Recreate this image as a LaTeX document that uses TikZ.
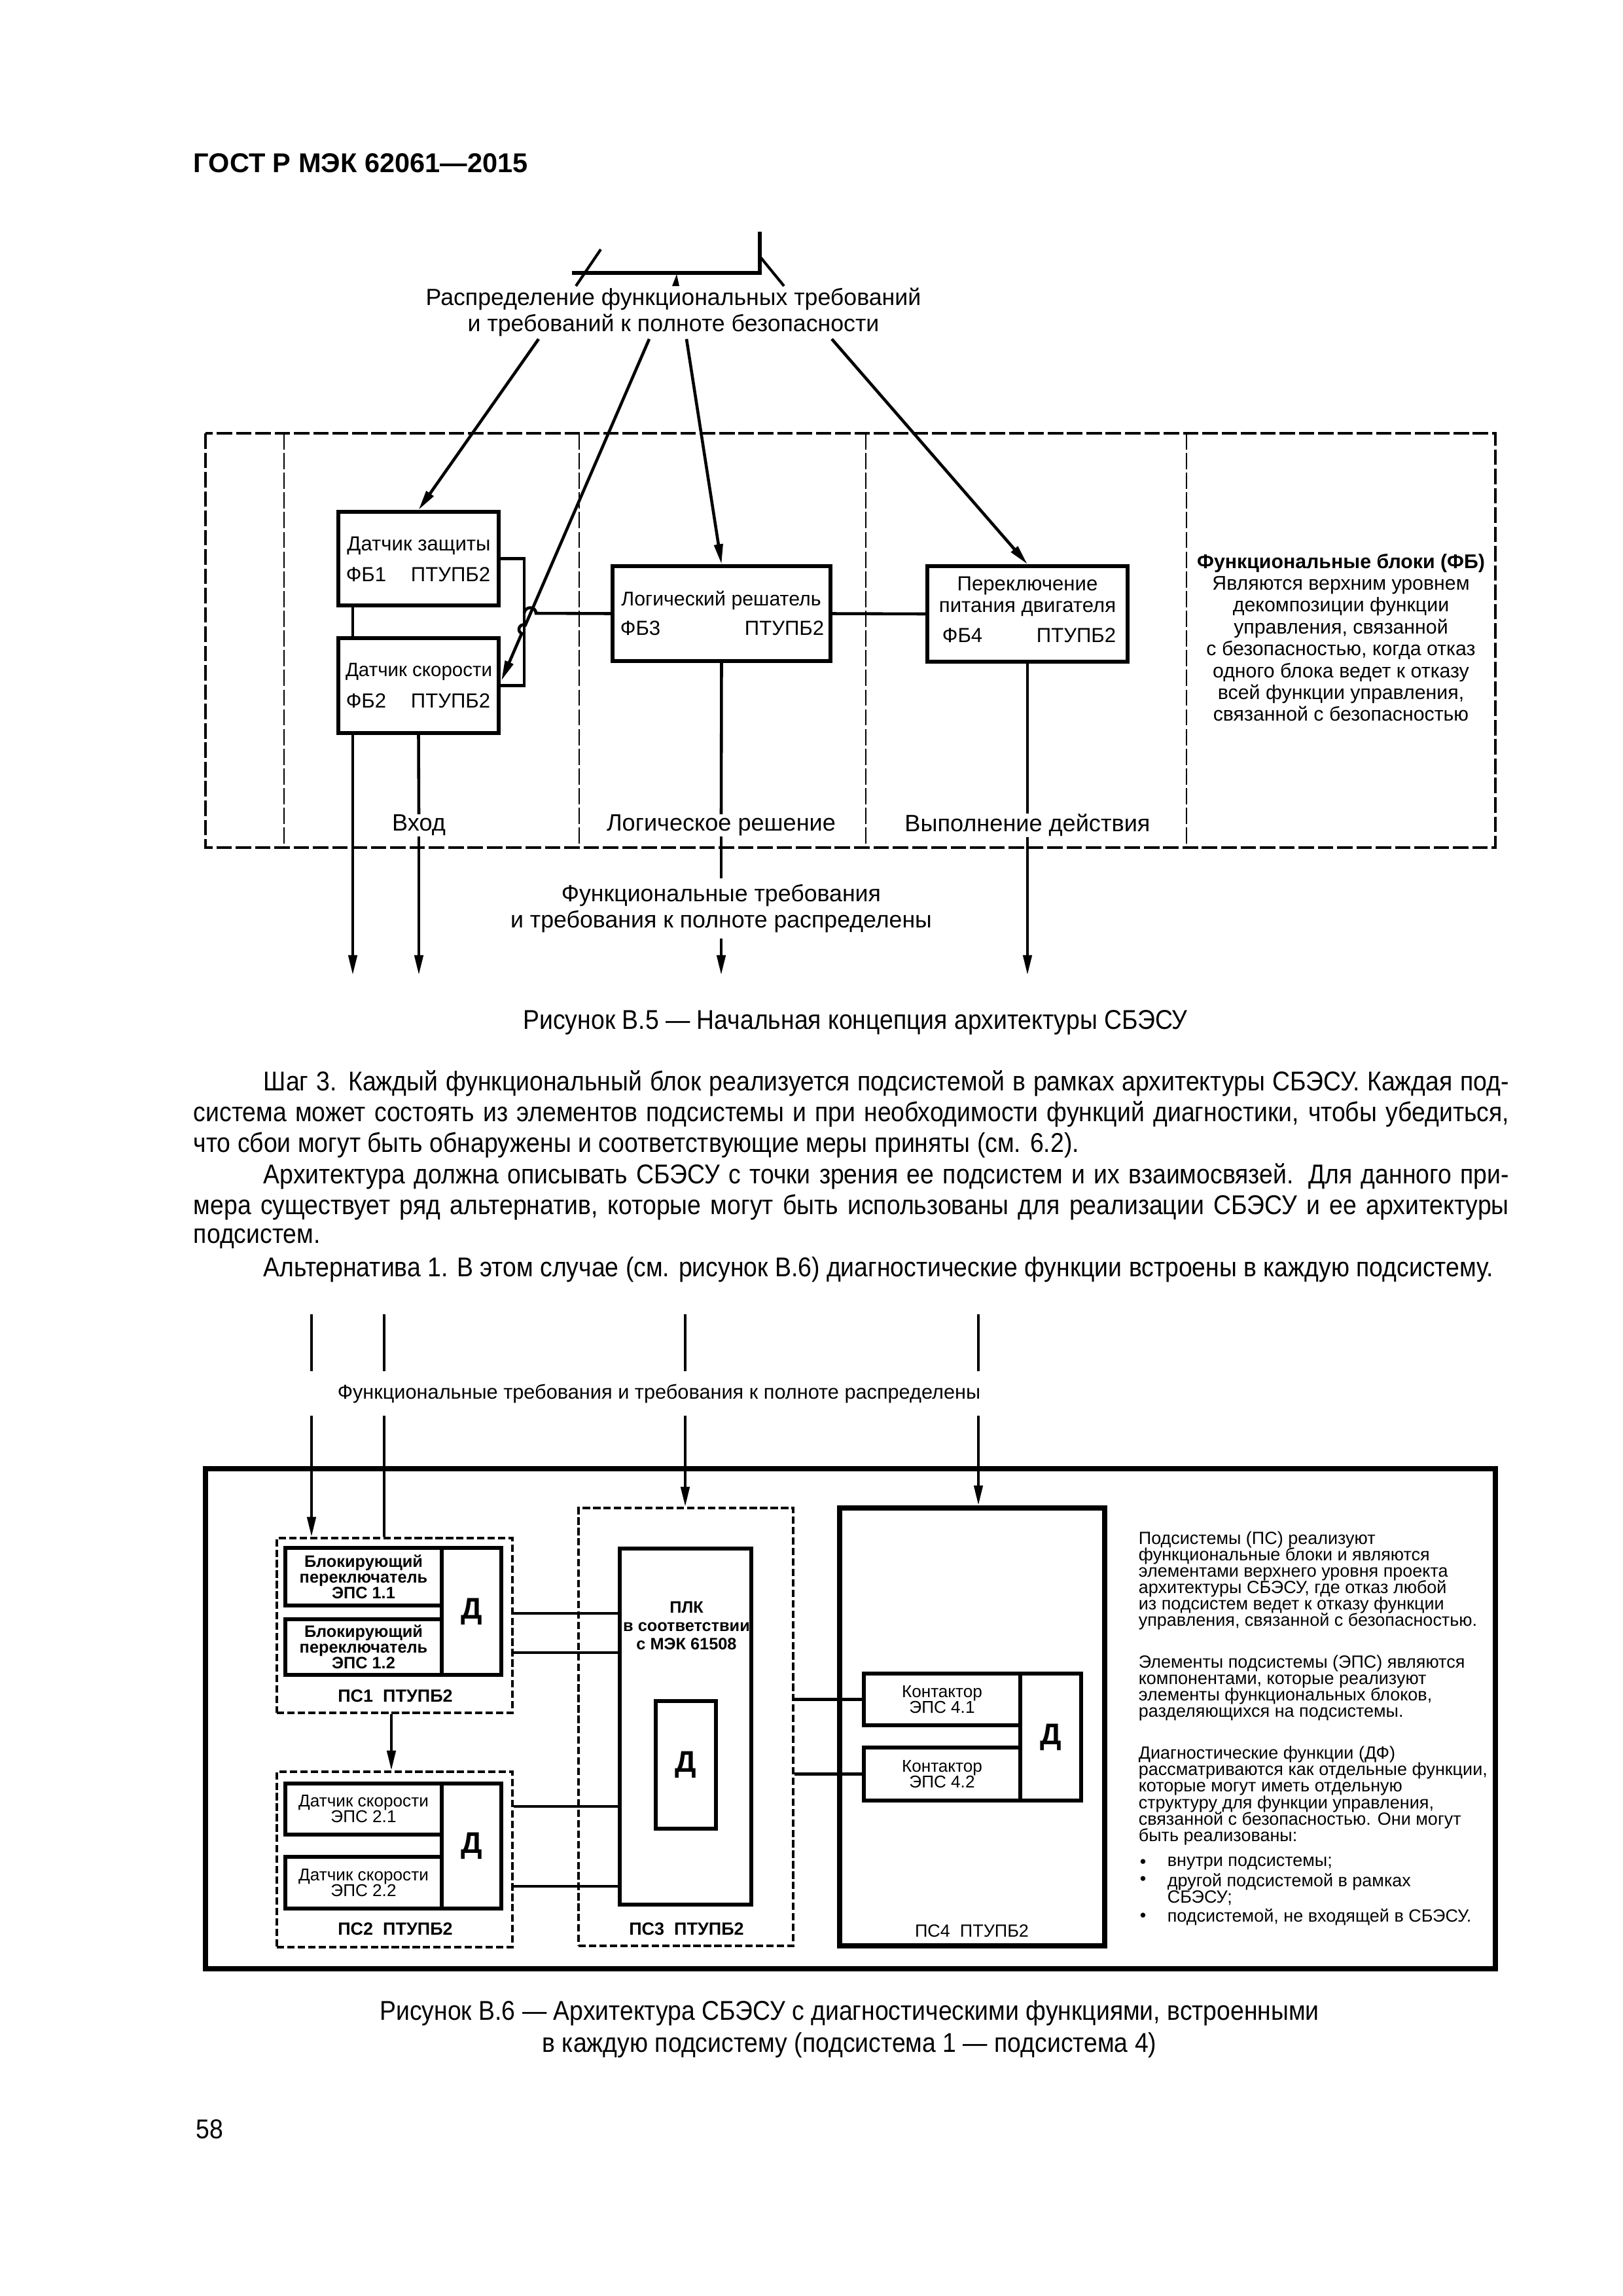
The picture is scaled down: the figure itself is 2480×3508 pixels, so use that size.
\documentclass[tikz,border=0pt]{standalone}
\usepackage{fontspec}
\setmainfont{Liberation Sans}
\newfontfamily\narrowfont{Liberation Sans}[FakeStretch=0.9]
\usetikzlibrary{arrows.meta,fit}
\newlength\pxu
\setlength\pxu{0.084677mm}
\newcommand\fsz[2]{\fontsize{#1}{#2}\selectfont\lineskiplimit=-50pt\relax}
\begin{document}
\begin{tikzpicture}[x=0.084677mm,y=-0.084677mm,
  fbx/.style={draw,line width=1.4pt,inner sep=0pt},
  sbx/.style={draw,line width=1.45pt,inner sep=0pt},
  thickbx/.style={draw,line width=1.8pt,inner sep=0pt},
  dbx/.style={draw,line width=0.8pt,dash pattern=on 0.95mm off 0.4mm,inner sep=0pt},
  dfr/.style={line width=0.85pt,dash pattern=on 2mm off 0.5mm},
  dvl/.style={line width=0.7pt,dash pattern=on 2.1mm off 0.45mm},
  conn/.style={line width=1.1pt},
  thinl/.style={line width=1pt},
  arr/.style={conn,-{Triangle[length=2.6mm,width=1.1mm]}},
  boxlbl/.style={inner sep=0pt,font=\fsz{7.5}{9}},
  seclbl/.style={inner sep=0pt,font=\fsz{8.7}{10}},
  head/.style={inner sep=0pt,align=center,font=\fsz{8.6}{9.6}},
  smalllbl/.style={inner sep=0pt,align=center,font=\fsz{6.3}{5.8}},
  pslbl/.style={inner sep=0pt,font=\fsz{6.5}{7}\bfseries},
  note/.style={inner sep=0pt,align=left,anchor=west,font=\fsz{6.5}{6.05}},
  body/.style={inner sep=0pt,anchor=west,font=\narrowfont\fsz{10}{11.5}},
  bigd/.style={inner sep=0pt,font=\fsz{11}{12}\bfseries}]
\fill[white] (0,0) rectangle (2480,3508);
\useasboundingbox (0,0) rectangle (2480,3508);

% ---------- header ----------
\node[inner sep=0pt,anchor=west,font=\fsz{10}{12}\bfseries] (title) at (295,249) {ГОСТ Р МЭК 62061—2015};

% ---------- figure B.5 ----------
\coordinate (tv1) at (1161,354);
\coordinate (tv2) at (1161,417);
\coordinate (th1) at (874,417);
\draw[line width=1.3pt] (tv1) -- (tv2) -- (th1);
\coordinate (sl1) at (918,381);
\coordinate (sl2) at (880,437);
\draw[thinl] (sl1) -- (sl2);
\coordinate (sr1) at (1162,393);
\coordinate (sr2) at (1198,437);
\draw[thinl] (sr1) -- (sr2);
\fill (1027,437) -- (1038,437) -- (1034,419) -- cycle;

\node[head] (head1) at (1029,477) {Распределение функциональных требований\\и требований к полноте безопасности};

\coordinate (s1) at (823,518);
\coordinate (s2) at (992,518);
\coordinate (s3) at (1049,518);
\coordinate (s4) at (1271,518);

\draw[dfr] (314,662) rectangle (2285,1295);
\foreach \xx in {434,885,1323,1813} \draw[dvl] (\xx,662) -- (\xx,1295);

\node[fbx,fit={(517,782)(762,925)}] (fb1) {};
\node[fbx,fit={(517,975)(762,1120)}] (fb2) {};
\node[fbx,fit={(936,865)(1269,1010)}] (fb3) {};
\node[fbx,fit={(1417,865)(1723,1011)}] (fb4) {};

\node[boxlbl] (fb1a) at (640,834) {Датчик защиты};
\node[boxlbl,anchor=west] (fb1b) at (528,878) {ФБ1};
\node[boxlbl,anchor=east] (fb1c) at (750,878) {ПТУПБ2};
\node[boxlbl,font=\fsz{7.1}{9}] (fb2a) at (640,1026) {Датчик скорости};
\node[boxlbl,anchor=west] (fb2b) at (528,1071) {ФБ2};
\node[boxlbl,anchor=east] (fb2c) at (750,1071) {ПТУПБ2};
\node[boxlbl,font=\fsz{7.3}{9}] (fb3a) at (1102,917) {Логический решатель};
\node[boxlbl,anchor=west] (fb3b) at (947,960) {ФБ3};
\node[boxlbl,anchor=east] (fb3c) at (1260,960) {ПТУПБ2};
\node[boxlbl] (fb4a) at (1570,895) {Переключение};
\node[boxlbl] (fb4b) at (1570,930) {питания двигателя};
\node[boxlbl,anchor=west] (fb4c) at (1439,971) {ФБ4};
\node[boxlbl,anchor=east] (fb4d) at (1706,971) {ПТУПБ2};

\draw[arr] (s1) -- (fb1.north);
\draw[arr] (s3) -- (fb3.north);
\draw[arr] (s4) -- (fb4.north);
\coordinate (e2) at (766,1040);
\coordinate (h1) at (802.8,955.1);
\coordinate (h2) at (797.2,967.9);
\draw[arr] (s2) -- (h1) .. controls (794.3,951.4) and (788.7,964.2) .. (h2) -- (e2);

\draw[conn] (fb1.east) -- ++(36,0) coordinate (fk1) -- (fk1 |- fb2.east) -- (fb2.east);
\coordinate (hj) at (819,937);
\draw[conn] (fb3.west) -- (hj) .. controls (819,925.7) and (802,925.7) .. (fk1 |- hj);
\draw[conn] (fb3.east) -- (fb4.west);

\coordinate (v1) at (539,0);
\coordinate (tipy) at (0,1490);
\draw[conn] (v1 |- fb1.south) -- (v1 |- fb2.north);
\draw[arr] (v1 |- fb2.south) -- (v1 |- tipy);

\node[seclbl] (vhod) at (640,1261) {Вход};
\node[seclbl] (logres) at (1102,1261) {Логическое решение};
\node[seclbl] (vypd) at (1570,1261) {Выполнение действия};
\node[head,inner ysep=2pt] (head2) at (1102,1388) {Функциональные требования\\и требования к полноте распределены};

\draw[conn] (fb2.south) -- (vhod.north);
\draw[arr] (vhod.south) -- (vhod.south |- tipy);
\draw[conn] (fb3.south) -- (logres.north);
\draw[conn] (logres.south) -- (head2.north);
\draw[arr] (head2.south) -- (head2.south |- tipy);
\draw[conn] (fb4.south) -- (vypd.north);
\draw[arr] (vypd.south) -- (vypd.south |- tipy);

\node[inner sep=0pt,align=center,font=\fsz{7.3}{8.05}] (fbnote) at (2049,974)
 {\textbf{Функциональные блоки (ФБ)}\\Являются верхним уровнем\\декомпозиции функции\\управления, связанной\\с безопасностью, когда отказ\\одного блока ведет к отказу\\всей функции управления,\\связанной с безопасностью};

\node[inner sep=0pt,font=\narrowfont\fsz{10}{12}] (cap5) at (1307,1562) {Рисунок В.5 — Начальная концепция архитектуры СБЭСУ};

% ---------- body text ----------
\node[body] (t1) at (402,1655) {\makebox[1903\pxu][s]{Шаг 3. Каждый функциональный блок реализуется подсистемой в рамках архитектуры СБЭСУ. Каждая под-}};
\node[body] (t2) at (295,1702.5) {\makebox[2010\pxu][s]{система может состоять из элементов подсистемы и при необходимости функций диагностики, чтобы убедиться,}};
\node[body] (t3) at (295,1750) {что сбои могут быть обнаружены и соответствующие меры приняты (см. 6.2).};
\node[body] (t4) at (402,1797.5) {\makebox[1903\pxu][s]{Архитектура должна описывать СБЭСУ с точки зрения ее подсистем и их взаимосвязей. Для данного при-}};
\node[body] (t5) at (295,1845) {\makebox[2010\pxu][s]{мера существует ряд альтернатив, которые могут быть использованы для реализации СБЭСУ и ее архитектуры}};
\node[body] (t6) at (295,1892.5) {подсистем.};
\node[body] (t7) at (402,1940) {Альтернатива 1. В этом случае (см. рисунок В.6) диагностические функции встроены в каждую подсистему.};

% ---------- figure B.6 ----------
\node[inner sep=0pt,font=\fsz{7.4}{9}] (head3) at (1007,2129) {Функциональные требования и требования к полноте распределены};

\node[thickbx,fit={(314,2244)(2285,3008)}] (outer) {};
\node[dbx,fit={(423,2350)(783,2617)}] (ps1) {};
\node[sbx,fit={(436,2365)(675,2453)}] (b11) {};
\node[sbx,fit={(436,2474)(675,2559)}] (b12) {};
\node[sbx,fit={(675,2365)(766,2559)}] (d1) {};
\node[dbx,fit={(423,2707)(783,2975)}] (ps2) {};
\node[sbx,fit={(436,2725)(675,2803)}] (b21) {};
\node[sbx,fit={(436,2837)(675,2916)}] (b22) {};
\node[sbx,fit={(675,2725)(766,2916)}] (d2) {};
\node[dbx,fit={(884,2304)(1212,2973)}] (ps3) {};
\node[sbx,fit={(947,2366)(1148,2910)}] (plc) {};
\node[sbx,fit={(1002,2599)(1094,2794)}] (dplc) {};
\node[thickbx,fit={(1283,2304)(1688,2973)}] (ps4) {};
\node[sbx,fit={(1320,2557)(1559,2636)}] (k41) {};
\node[sbx,fit={(1320,2670)(1559,2751)}] (k42) {};
\node[sbx,fit={(1559,2557)(1652,2751)}] (d4) {};

\node[smalllbl,font=\fsz{6.1}{5.8}\bfseries] (b11t) at (b11.center) {Блокирующий\\переключатель\\ЭПС 1.1};
\node[smalllbl,font=\fsz{6.1}{5.8}\bfseries] (b12t) at (b12.center) {Блокирующий\\переключатель\\ЭПС 1.2};
\node[bigd] (d1t) at (d1.center) {Д};
\node[pslbl] (ps1t) at (604,2591) {ПС1\ \ ПТУПБ2};
\node[smalllbl] (b21t) at (b21.center) {Датчик скорости\\ЭПС 2.1};
\node[smalllbl] (b22t) at (b22.center) {Датчик скорости\\ЭПС 2.2};
\node[bigd] (d2t) at (d2.center) {Д};
\node[pslbl] (ps2t) at (604,2947) {ПС2\ \ ПТУПБ2};
\node[smalllbl,font=\fsz{6.1}{6.7}\bfseries] (plct) at (1049,2484) {ПЛК\\в соответствии\\с МЭК 61508};
\node[bigd] (dplct) at (dplc.center) {Д};
\node[pslbl] (ps3t) at (1049,2947) {ПС3\ \ ПТУПБ2};
\node[smalllbl] (k41t) at (k41.center) {Контактор\\ЭПС 4.1};
\node[smalllbl] (k42t) at (k42.center) {Контактор\\ЭПС 4.2};
\node[bigd] (d4t) at (d4.center) {Д};
\node[inner sep=0pt,font=\fsz{6.5}{7}] (ps4t) at (1485,2950) {ПС4\ \ ПТУПБ2};

% incoming lines
\foreach \nm/\xx in {qa/476,qb/587,qc/1047,qd/1495}{
  \coordinate (\nm t) at (\xx,2008);
  \coordinate (\nm m) at (\xx,2095);
  \coordinate (\nm n) at (\xx,2163);
  \draw[conn] (\nm t) -- (\nm m);
}
\draw[arr] (qan) -- (qan |- ps1.north);
\draw[conn] (qbn) -- (qbn |- ps1.north);
\draw[arr] (qcn) -- (qcn |- ps3.north);
\draw[arr] (qdn) -- (qdn |- ps4.north);

% internal connections
\coordinate (ya) at (0,2465);
\coordinate (yb) at (0,2525);
\coordinate (yc) at (0,2760);
\coordinate (yd) at (0,2882);
\draw[conn] (ps1.east |- ya) -- (plc.west |- ya);
\draw[conn] (ps1.east |- yb) -- (plc.west |- yb);
\draw[conn] (ps2.east |- yc) -- (plc.west |- yc);
\draw[conn] (ps2.east |- yd) -- (plc.west |- yd);
\coordinate (xa) at (598,0);
\draw[arr] (xa |- ps1.south) -- (xa |- ps2.north);
\draw[conn] (ps3.east |- k41.west) -- (k41.west);
\draw[conn] (ps3.east |- k42.west) -- (k42.west);

% notes
\node[note] (n1) at (1739,2415) {Подсистемы (ПС) реализуют\\функциональные блоки и являются\\элементами верхнего уровня проекта\\архитектуры СБЭСУ, где отказ любой\\из подсистем ведет к отказу функции\\управления, связанной с безопасностью.};
\node[note] (n2) at (1739,2579) {Элементы подсистемы (ЭПС) являются\\компонентами, которые реализуют\\элементы функциональных блоков,\\разделяющихся на подсистемы.};
\node[note] (n3) at (1739,2743.5) {Диагностические функции (ДФ)\\рассматриваются как отдельные функции,\\которые могут иметь отдельную\\структуру для функции управления,\\связанной с безопасностью. Они могут\\быть реализованы:};
\node[note] (bu1) at (1741,2847) {•};
\node[note] (bu2) at (1741,2873) {•};
\node[note] (bu3) at (1741,2929) {•};
\node[note] (n4) at (1783,2847) {внутри подсистемы;};
\node[note] (n5) at (1783,2886.5) {другой подсистемой в рамках\\СБЭСУ;};
\node[note] (n6) at (1783,2929) {подсистемой, не входящей в СБЭСУ.};

\node[inner sep=0pt,align=center,font=\narrowfont\fsz{10}{11.9}] (cap6) at (1298,3100) {Рисунок В.6 — Архитектура СБЭСУ с диагностическими функциями, встроенными\\в каждую подсистему (подсистема 1 — подсистема 4)};

\node[inner sep=0pt,anchor=west,font=\narrowfont\fsz{10}{12}] (pgnum) at (299,3253) {58};
\end{tikzpicture}
\end{document}
